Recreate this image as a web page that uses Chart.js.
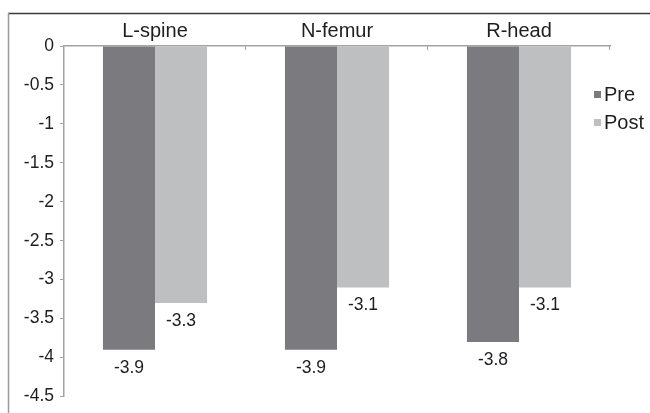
<!DOCTYPE html>
<html>
<head>
<meta charset="utf-8">
<script src="https://cdn.jsdelivr.net/npm/chart.js@4/dist/chart.umd.min.js"></script>
<style>
  html, body { margin: 0; padding: 0; background: #fff; }
  #wrap { width: 650px; height: 413px; }
</style>
</head>
<body>
<div id="wrap"><canvas id="chartDensidad" width="650" height="413"></canvas></div>
<script>
const categorias = ['L-spine', 'N-femur', 'R-head'];
const valoresPre = [-3.9, -3.9, -3.8];
const valoresPost = [-3.3, -3.1, -3.1];
const ticksY = [0, -0.5, -1, -1.5, -2, -2.5, -3, -3.5, -4, -4.5];

const grisEje = '#a3a3a3';
const fuente = '"Liberation Sans", Arial, sans-serif';

// marco recortado (solo arriba e izquierda)
const marco = {
    id: 'marco',
    beforeDraw(chart) {
        const c = chart.ctx;
        c.save();
        c.strokeStyle = '#3a3a3a';
        c.lineWidth = 1.5;
        c.beginPath();
        c.moveTo(8, 13.5);
        c.lineTo(650, 13.5);
        c.stroke();
        c.strokeStyle = '#9a9a9a';
        c.beginPath();
        c.moveTo(8.5, 13);
        c.lineTo(8.5, 413);
        c.stroke();
        c.restore();
    }
};

// marcas hacia abajo en los limites de categoria
const marcasX = {
    id: 'marcasX',
    afterDraw(chart) {
        const x = chart.scales.x;
        const c = chart.ctx;
        const n = categorias.length;
        c.save();
        c.strokeStyle = grisEje;
        c.lineWidth = 1;
        for (let i = 1; i <= n; i++) {
            const px = Math.round(x.left + i * (x.right - x.left) / n) - 0.5;
            c.beginPath();
            c.moveTo(px, x.bottom);
            c.lineTo(px, x.bottom + 4);
            c.stroke();
        }
        c.restore();
    }
};

const etiquetas = {
    id: 'etiquetas',
    afterDatasetsDraw(chart) {
        const c = chart.ctx;
        c.save();
        c.font = '17.5px ' + fuente;
        c.fillStyle = '#1e1e1e';
        c.textAlign = 'center';
        c.textBaseline = 'middle';
        chart.data.datasets.forEach((ds, i) => {
            chart.getDatasetMeta(i).data.forEach((bar, j) => {
                c.fillText(String(ds.data[j]), bar.x, bar.y + 18);
            });
        });
        c.restore();
    }
};

const leyenda = {
    id: 'leyenda',
    afterDraw(chart) {
        const c = chart.ctx;
        c.save();
        c.font = '20px ' + fuente;
        c.textBaseline = 'middle';
        chart.data.datasets.forEach((ds, i) => {
            const y = 94 + i * 28;
            c.fillStyle = ds.backgroundColor;
            c.fillRect(594, y - 3, 7, 7);
            c.fillStyle = '#1e1e1e';
            c.fillText(ds.label, 604, y + 1);
        });
        c.restore();
    }
};

new Chart(document.getElementById('chartDensidad'), {
    type: 'bar',
    data: {
        labels: categorias,
        datasets: [{
            label: 'Pre',
            data: valoresPre,
            backgroundColor: '#7b7b7f',
            categoryPercentage: 0.572,
            barPercentage: 1
        }, {
            label: 'Post',
            data: valoresPost,
            backgroundColor: '#bebfc1',
            categoryPercentage: 0.572,
            barPercentage: 1
        }]
    },
    options: {
        responsive: false,
        animation: false,
        layout: { padding: { left: 0, top: 0, right: 40, bottom: 12 } },
        plugins: {
            legend: { display: false },
            tooltip: { enabled: false }
        },
        scales: {
            x: {
                position: 'top',
                grid: { display: false, drawTicks: false },
                border: { display: true, color: grisEje, width: 1.5 },
                ticks: {
                    padding: 3,
                    color: '#1e1e1e',
                    font: { family: fuente, size: 20 }
                },
                afterFit: s => { s.height = 46; }
            },
            y: {
                min: -4.5,
                max: 0,
                afterBuildTicks: s => { s.ticks = ticksY.map(v => ({ value: v })); },
                grid: {
                    drawOnChartArea: false,
                    drawTicks: true,
                    tickLength: 4,
                    color: grisEje
                },
                border: { display: true, color: grisEje, width: 1.5 },
                ticks: {
                    padding: 6,
                    color: '#1e1e1e',
                    font: { family: fuente, size: 17.5 },
                    callback: v => String(v)
                },
                afterFit: s => { s.width = 64; }
            }
        }
    },
    plugins: [marco, marcasX, etiquetas, leyenda]
});
</script>
</body>
</html>
